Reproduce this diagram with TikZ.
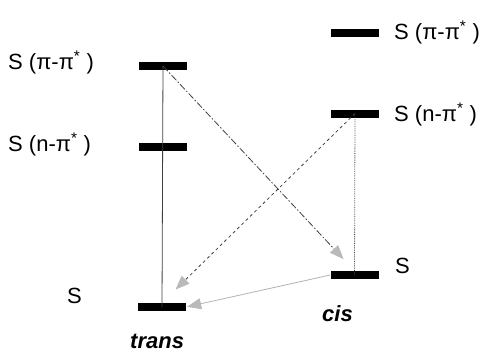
\documentclass[tikz,border=0pt]{standalone}
\usepackage{fontspec}
\setmainfont{Liberation Sans}
\usetikzlibrary{arrows.meta}

\begin{document}
\begin{tikzpicture}[x=1pt,y=-1pt,
    level/.style={fill=black, minimum width=48pt, minimum height=8pt, inner sep=0pt},
    lbl/.style={font=\fontsize{22}{26}\selectfont, inner sep=0pt, anchor=base west},
    form/.style={font=\fontsize{22}{26}\selectfont\bfseries\itshape, inner sep=0pt, anchor=base west},
    trace/.style={black!75, line width=0.8pt},
    head/.style={-{Triangle[length=14pt,width=11pt,color=gray!55]}},
    dashdot/.style={dash pattern=on 7pt off 2pt on 1.5pt off 2pt}
  ]
        \useasboundingbox (0,0) rectangle (485,354);

        % trans levels (left)
        \node[level] (tpp) at (163,66) {};
        \node[level] (tnp) at (163,146.5) {};
        \node[level] (ts) at (162,307) {};
        \node[lbl] (tppl) at (8,69) {S (π-π\textsuperscript{*}\;)};
        \node[lbl] (tnpl) at (8,151) {S (n-π\textsuperscript{*}\;)};
        \node[lbl] (tsl) at (67,303) {S};
        \node[form] (transl) at (130,348) {trans};

        % cis levels (right)
        \node[level] (cpp) at (355,32.5) {};
        \node[level] (cnp) at (355,113.5) {};
        \node[level] (cs) at (354.5,275) {};
        \node[lbl] (cppl) at (394,39) {S (π-π\textsuperscript{*}\;)};
        \node[lbl] (cnpl) at (394,121) {S (n-π\textsuperscript{*}\;)};
        \node[lbl] (csl) at (395,273) {S};
        \node[form] (cisl) at (322,321) {cis};

        % relaxation paths
        \draw[trace] (tpp.center) -- (ts.center);
        \draw[trace, densely dotted] (cnp.center) -- (cs.center);
        \draw[trace, dashdot, head, shorten >=16pt] (tpp.center) -- (cs.north);
        \draw[trace, dashed, head, shorten >=19pt] (cnp.center) -- (ts.north);
        \draw[trace, gray!60, head, shorten >=1pt] (cs.west) -- (ts.east);

\end{tikzpicture}
\end{document}
